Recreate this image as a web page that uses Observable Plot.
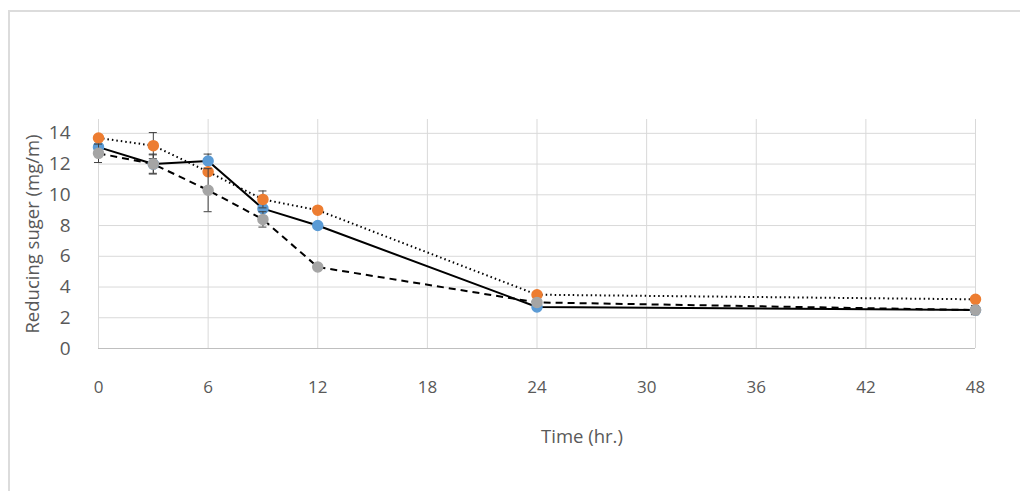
<!DOCTYPE html>
<html>
<head>
<meta charset="utf-8">
<script src="https://cdn.jsdelivr.net/npm/d3@7"></script>
<script src="https://cdn.jsdelivr.net/npm/@observablehq/plot@0.6"></script>
<style>
  html, body { margin: 0; padding: 0; background: #fff; }
  #wrap { position: relative; width: 1020px; height: 491px; overflow: hidden; }
  #frame { position: absolute; left: 8px; top: 10px; width: 1100px; height: 600px;
           border-left: 2px solid #dcdcdc; border-top: 2px solid #dcdcdc; box-sizing: border-box; }
  #chart { position: absolute; left: 0; top: 0; }
</style>
</head>
<body>
<div id="wrap"><div id="frame"></div><div id="chart"></div></div>
<script>
const hours = [0, 3, 6, 9, 12, 24, 48];
const seriesA = [13.1, 12.0, 12.2, 9.1, 8.0, 2.7, 2.5];   // blue, solid
const seriesB = [13.7, 13.2, 11.5, 9.7, 9.0, 3.5, 3.2];   // orange, dotted
const seriesC = [12.7, 12.0, 10.3, 8.4, 5.3, 3.0, 2.5];   // gray, dashed
const errA = [0.2, 0.6, 0.45, 0.2, 0.1, 0.15, 0.1];
const errB = [0.1, 0.85, 0.1, 0.55, 0.1, 0.1, 0.1];
const errC = [0.6, 0.65, 1.4, 0.5, 0.1, 0.1, 0.3];
const xTicks = [0, 6, 12, 18, 24, 30, 36, 42, 48];
const yTicks = [0, 2, 4, 6, 8, 10, 12, 14];
const xTitle = "Time (hr.)";
const yTitle = "Reducing suger (mg/m)";

const series = [
  {values: seriesA, err: errA, color: "#5B9BD5", dash: null},
  {values: seriesB, err: errB, color: "#ED7D31", dash: "1.5,3"},
  {values: seriesC, err: errC, color: "#A5A5A5", dash: "7,5"}
];
const rows = series.map(s => hours.map((h, i) => ({h, v: s.values[i], e: s.err[i]})));
const cap = 0.22;
const txt = "#595959";

const marks = [
  Plot.gridX(xTicks, {stroke: "#d9d9d9", strokeOpacity: 1, y1: 0, y2: 14.9}),
  Plot.gridY(yTicks, {stroke: "#d9d9d9", strokeOpacity: 1}),
  Plot.ruleY([0], {stroke: "#bfbfbf", strokeWidth: 1.2}),
  Plot.axisX(xTicks, {tickSize: 0, tickPadding: 32, fontSize: 17, fill: txt, label: null}),
  Plot.axisY(yTicks, {tickSize: 0, tickPadding: 28, fontSize: 19, fill: txt, label: null}),
  Plot.text([xTitle], {text: d => d, frameAnchor: "bottom", dx: 45, dy: 94, fontSize: 18.5, fill: txt}),
  Plot.text([yTitle], {text: d => d, frameAnchor: "left", textAnchor: "middle", dx: -65, rotate: -90, fontSize: 18.5, fill: txt})
];
series.forEach((s, k) => {
  marks.push(Plot.line(rows[k], {x: "h", y: "v", stroke: "#000", strokeWidth: 2,
    strokeDasharray: s.dash, strokeLinecap: "butt"}));
});
series.forEach((s, k) => {
  const d = rows[k];
  marks.push(Plot.ruleX(d, {x: "h", y1: r => r.v - r.e, y2: r => r.v + r.e, stroke: "#404040", strokeWidth: 1}));
  marks.push(Plot.ruleY(d, {y: r => r.v - r.e, x1: r => r.h - cap, x2: r => r.h + cap, stroke: "#404040", strokeWidth: 1}));
  marks.push(Plot.ruleY(d, {y: r => r.v + r.e, x1: r => r.h - cap, x2: r => r.h + cap, stroke: "#404040", strokeWidth: 1}));
  marks.push(Plot.dot(d, {x: "h", y: "v", r: 5, fill: s.color, stroke: s.color}));
});

const chart = Plot.plot({
  width: 1020,
  height: 491,
  marginLeft: 98,
  marginRight: 45,
  marginTop: 119,
  marginBottom: 143,
  style: {fontFamily: "'Open Sans', sans-serif", background: "transparent", color: txt},
  x: {domain: [0, 48]},
  y: {domain: [0, 14.9]},
  marks
});
document.getElementById("chart").appendChild(chart);
</script>
</body>
</html>
